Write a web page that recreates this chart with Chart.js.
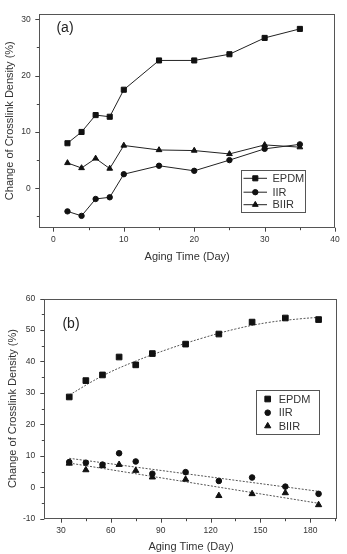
<!DOCTYPE html>
<html>
<head>
<meta charset="utf-8">
<script src="https://cdn.jsdelivr.net/npm/chart.js@4"></script>
<style>
  body { margin: 0; background: #fff; }
  .box { position: absolute; left: 0; width: 347px; }
</style>
</head>
<body>
<div class="box" style="top:0;height:280px"><canvas id="chartA" width="347" height="280"></canvas></div>
<div class="box" style="top:280px;height:274px"><canvas id="chartB" width="347" height="274"></canvas></div>
<script>
// (a) short aging
const daysA = [2, 4, 6, 8, 10, 15, 20, 25, 30, 35];
const epdmA = [8.0, 10.0, 13.0, 12.7, 17.5, 22.7, 22.7, 23.8, 26.7, 28.3];
const iirA = [-4.1, -4.9, -1.9, -1.6, 2.5, 4.0, 3.1, 5.0, 7.0, 7.8];
const biirA = [4.5, 3.6, 5.3, 3.5, 7.6, 6.8, 6.7, 6.1, 7.7, 7.3];

// (b) long aging
const daysB = [35, 45, 55, 65, 75, 85, 105, 125, 145, 165, 185];
const epdmB = [28.7, 33.9, 35.7, 41.4, 38.9, 42.5, 45.5, 48.7, 52.5, 53.8, 53.3];
const iirB = [8.0, 7.8, 7.2, 10.8, 8.2, 4.3, 4.8, 2.0, 3.1, 0.2, -2.1];
const biirB = [7.6, 5.5, 6.8, 7.2, 5.3, 3.2, 2.5, -2.7, -2.1, -1.8, -5.6];

// fitted curves
const fitDays = [35, 55, 75, 95, 115, 135, 155, 175, 185];
const epdmFit = [29.3, 35.4, 40.1, 44.0, 47.4, 50.3, 52.4, 53.6, 54.0];
const linDays = [35, 185];
const iirFit = [9.2, -1.3];
const biirFit = [7.7, -5.1];

// tick values (major ones get labels)
const ticksAX = [0, 5, 10, 15, 20, 25, 30, 35, 40];
const ticksAY = [-5, 0, 5, 10, 15, 20, 25, 30];
const ticksBX = [30, 45, 60, 75, 90, 105, 120, 135, 150, 165, 180, 195];
const ticksBY = [-10, -5, 0, 5, 10, 15, 20, 25, 30, 35, 40, 45, 50, 55, 60];

const seriesNames = ["EPDM", "IIR", "BIIR"];
const xTitle = "Aging Time (Day)";
const yTitle = "Change of Crosslink Density (%)";

const FONT = "'Liberation Sans', Arial, sans-serif";
const TXT = "#333";

function pts(xs, ys) {
  return xs.map((x, i) => ({ x: x, y: ys[i] }));
}

// frame, ticks (major + minor), panel letter and legend
const decor = {
  id: "decor",
  afterDraw(chart, args, opts) {
    const ctx = chart.ctx;
    const a = chart.chartArea;
    ctx.save();
    ctx.strokeStyle = "#555";
    ctx.lineWidth = 1;
    ctx.strokeRect(Math.round(a.left) + 0.5, Math.round(a.top) + 0.5,
      Math.round(a.right - a.left) - 1, Math.round(a.bottom - a.top) - 1);

    ctx.strokeStyle = "#444";
    const xs = chart.scales.x, ys = chart.scales.y;
    xs.ticks.forEach(t => {
      const len = t.value % opts.xMajor === 0 ? 4 : 2.5;
      const px = Math.round(xs.getPixelForValue(t.value)) + 0.5;
      ctx.beginPath();
      ctx.moveTo(px, a.bottom);
      ctx.lineTo(px, a.bottom + len);
      ctx.stroke();
    });
    ys.ticks.forEach(t => {
      const len = t.value % opts.yMajor === 0 ? 4 : 2.5;
      const py = Math.round(ys.getPixelForValue(t.value)) + 0.5;
      ctx.beginPath();
      ctx.moveTo(a.left, py);
      ctx.lineTo(a.left - len, py);
      ctx.stroke();
    });

    ctx.fillStyle = "#222";
    ctx.font = "14px " + FONT;
    ctx.textAlign = "center";
    ctx.textBaseline = "middle";
    ctx.fillText(opts.letter, opts.letterX, opts.letterY);

    const L = opts.legend;
    ctx.fillStyle = "#fff";
    ctx.fillRect(L.x, L.y, L.w, L.h);
    ctx.strokeStyle = "#555";
    ctx.strokeRect(L.x + 0.5, L.y + 0.5, L.w, L.h);
    ctx.font = "11px " + FONT;
    ctx.textAlign = "left";
    seriesNames.forEach((name, i) => {
      const ds = chart.data.datasets[i];
      const cy = L.rowY[i];
      if (L.line) {
        ctx.strokeStyle = "#222";
        ctx.beginPath();
        ctx.moveTo(L.lineX0, cy);
        ctx.lineTo(L.lineX1, cy);
        ctx.stroke();
      }
      ctx.fillStyle = "#111";
      ctx.strokeStyle = "#111";
      Chart.helpers.drawPoint(ctx, {
        pointStyle: ds.pointStyle, radius: ds.pointRadius, rotation: 0, borderWidth: 1
      }, L.markX, cy);
      ctx.fillStyle = TXT;
      ctx.fillText(name, L.textX, cy + 0.5);
    });
    ctx.restore();
  }
};

function axis(min, max, tickVals, major, pad, afterFit, titleText, titlePad) {
  return {
    type: "linear",
    min: min,
    max: max,
    afterFit: afterFit,
    afterBuildTicks: s => { s.ticks = tickVals.map(v => ({ value: v })); },
    grid: { display: true, drawOnChartArea: false, drawTicks: false, color: "rgba(0,0,0,0)" },
    border: { display: false },
    ticks: {
      autoSkip: false,
      maxRotation: 0,
      padding: pad,
      color: TXT,
      font: { family: FONT, size: 8.5 },
      callback: v => (v % major === 0 ? String(v) : "")
    },
    title: {
      display: true,
      text: titleText,
      color: TXT,
      padding: titlePad,
      font: { family: FONT, size: 11, lineHeight: 1.2 }
    }
  };
}

function markerSet(label, data, style, r, showLine) {
  return {
    label: label,
    data: data,
    showLine: showLine,
    borderColor: "#222",
    borderWidth: 1,
    pointStyle: style,
    pointRadius: r,
    pointHoverRadius: r,
    pointBackgroundColor: "#111",
    pointBorderColor: "#111",
    pointBorderWidth: 1
  };
}

function fitSet(data, tension) {
  return {
    label: "fit",
    data: data,
    showLine: true,
    borderColor: "#555",
    borderWidth: 1,
    borderDash: [2, 1.5],
    tension: tension,
    pointRadius: 0
  };
}

new Chart(document.getElementById("chartA"), {
  type: "scatter",
  data: {
    datasets: [
      markerSet("EPDM", pts(daysA, epdmA), "rect", 3.6, true),
      markerSet("IIR", pts(daysA, iirA), "circle", 2.7, true),
      markerSet("BIIR", pts(daysA, biirA), "triangle", 3.3, true)
    ]
  },
  options: {
    responsive: false,
    animation: false,
    layout: { padding: { left: 0, right: 5.7, top: 5, bottom: 0 } },
    plugins: {
      legend: { display: false },
      tooltip: { enabled: false },
      decor: {
        xMajor: 10, yMajor: 10,
        letter: "(a)", letterX: 65, letterY: 28,
        legend: {
          x: 241, y: 170, w: 64, h: 42, line: true,
          lineX0: 243.5, lineX1: 267, markX: 255.3, textX: 272.5,
          rowY: [178.3, 192.2, 204.7]
        }
      }
    },
    scales: {
      x: axis(-2, 40, ticksAX, 10, 7.2, s => { s.height = 52.3; }, xTitle, { top: 0, bottom: 16.1 }),
      y: axis(-7, 31, ticksAY, 10, 8.6, s => { s.width = 39.3; }, yTitle, { top: 3.4, bottom: 0 })
    }
  },
  plugins: [decor]
});

new Chart(document.getElementById("chartB"), {
  type: "scatter",
  data: {
    datasets: [
      markerSet("EPDM", pts(daysB, epdmB), "rect", 4, false),
      markerSet("IIR", pts(daysB, iirB), "circle", 2.8, false),
      markerSet("BIIR", pts(daysB, biirB), "triangle", 3.6, false),
      fitSet(pts(fitDays, epdmFit), 0.4),
      fitSet(pts(linDays, iirFit), 0),
      fitSet(pts(linDays, biirFit), 0)
    ]
  },
  options: {
    responsive: false,
    animation: false,
    layout: { padding: { left: 0, right: 9.3, top: 18.5, bottom: 0 } },
    plugins: {
      legend: { display: false },
      tooltip: { enabled: false },
      decor: {
        xMajor: 30, yMajor: 10,
        letter: "(b)", letterX: 71, letterY: 44,
        legend: {
          x: 256, y: 110, w: 63, h: 44, line: false,
          markX: 267.7, textX: 278.7,
          rowY: [119, 132.7, 146]
        }
      }
    },
    scales: {
      x: axis(20, 196.5, ticksBX, 30, 7.2, s => { s.height = 35.3; }, xTitle, { top: 0, bottom: 0.1 }),
      y: axis(-10, 60, ticksBY, 10, 9, s => { s.width = 44.3; }, yTitle, { top: 6.1, bottom: 0 })
    }
  },
  plugins: [decor]
});
</script>
</body>
</html>
